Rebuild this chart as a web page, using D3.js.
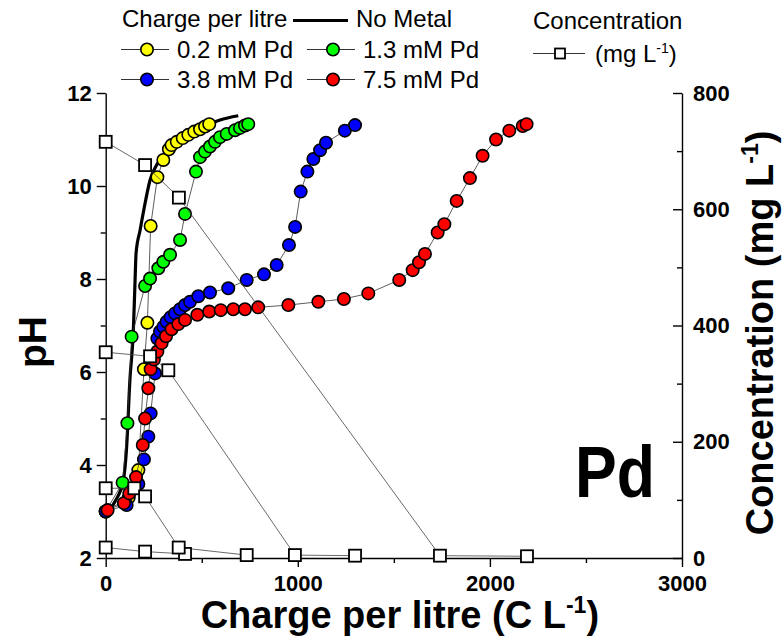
<!DOCTYPE html>
<html lang="en">
<head>
<meta charset="UTF-8">
<title>Pd pH vs charge</title>
<script src="https://d3js.org/d3.v7.min.js"></script>
<style>
  body { margin: 0; background: #fff; }
  svg { font-family: "Liberation Sans", Arial, sans-serif; }
  .axis path, .axis line { stroke: #000; stroke-width: 1.4px; }
  .axis text { font-size: 22px; font-weight: bold; fill: #000; font-family: "Liberation Sans", Arial, sans-serif; }
</style>
</head>
<body>
<div id="chart"></div>
<script>
// ---- data ----
const noMetalQ  = [0, 48, 92, 109, 126, 144, 153, 158, 179, 205, 231, 265, 317, 404, 491, 595, 690];
const noMetalPH = [2.95, 3.21, 3.68, 4.39, 5.83, 6.9, 7.98, 8.55, 9.05, 9.63, 10.13, 10.45, 10.77, 11.06, 11.24, 11.42, 11.51];

const pd02Q  = [0, 120, 170, 199, 217, 234, 269, 300, 329, 343, 370, 401, 430, 461, 491, 517, 539];
const pd02PH = [3.0, 3.3, 3.89, 6.06, 7.06, 9.14, 10.19, 10.56, 10.79, 10.88, 10.95, 11.03, 11.10, 11.17, 11.22, 11.28, 11.33];

const pd13Q  = [0, 88, 113, 135, 205, 231, 274, 300, 335, 387, 413, 470, 491, 517, 543, 569, 595, 630, 673, 699, 725, 742];
const pd13PH = [3.0, 3.62, 4.90, 6.76, 7.85, 8.01, 8.23, 8.37, 8.52, 8.84, 9.40, 10.31, 10.62, 10.74, 10.85, 10.95, 11.05, 11.12, 11.20, 11.25, 11.30, 11.33];

const pd38Q  = [0, 109, 170, 199, 222, 234, 257, 269, 283, 300, 317, 338, 361, 387, 413, 439, 482, 543, 638, 734, 824, 890, 954, 986, 1015, 1050, 1081, 1116, 1147, 1245, 1298];
const pd38PH = [3.0, 3.14, 3.59, 4.12, 4.61, 5.11, 5.97, 6.72, 6.87, 6.97, 7.08, 7.18, 7.26, 7.35, 7.44, 7.51, 7.63, 7.71, 7.80, 7.98, 8.10, 8.30, 8.73, 9.12, 9.88, 10.31, 10.58, 10.77, 10.93, 11.19, 11.31];

const pd75Q  = [10, 95, 123, 158, 193, 205, 222, 234, 251, 269, 291, 314, 343, 378, 413, 477, 539, 599, 664, 725, 794, 951, 1107, 1240, 1367, 1528, 1598, 1631, 1662, 1728, 1763, 1827, 1896, 1962, 2032, 2101, 2171, 2191];
const pd75PH = [3.03, 3.18, 3.39, 3.74, 4.43, 5.0, 5.65, 6.06, 6.27, 6.44, 6.62, 6.77, 6.92, 7.03, 7.12, 7.23, 7.30, 7.33, 7.35, 7.35, 7.39, 7.44, 7.51, 7.57, 7.69, 7.98, 8.19, 8.36, 8.54, 9.0, 9.18, 9.68, 10.17, 10.65, 11.0, 11.19, 11.29, 11.33];

// concentration (mg/L) vs charge
const conc02Q = [0, 205, 413];
const conc02  = [18, 11, 7];
const conc13Q = [0, 149, 205, 380, 734];
const conc13  = [120, 120, 106, 18, 5];
const conc38Q = [0, 231, 326, 985, 1298];
const conc38  = [354, 347, 323, 5, 4];
const conc75Q = [0, 205, 381, 1740, 2193];
const conc75  = [716, 676, 620, 4, 3];

const xTicks = [0, 1000, 2000, 3000];
const xMinor = [500, 1500, 2500];
const phTicks = [2, 4, 6, 8, 10, 12];
const phMinor = [3, 5, 7, 9, 11];
const concTicks = [0, 200, 400, 600, 800];
const concMinor = [100, 300, 500, 700];

const seriesLabels = ["0.2 mM Pd", "1.3 mM Pd", "3.8 mM Pd", "7.5 mM Pd"];
const seriesColors = ["#ffff00", "#00ff00", "#0000ff", "#ff0000"];

// ---- layout ----
const W = 784, H = 637;
const plotL = 105.7, plotR = 682, plotT = 93, plotB = 558;

const svg = d3.select("#chart").append("svg")
  .attr("width", W).attr("height", H);

const x = d3.scaleLinear().domain([0, 3000]).range([plotL, plotR]);
const y = d3.scaleLinear().domain([2, 12]).range([plotB, plotT]);
const yC = d3.scaleLinear().domain([0, 800]).range([plotB, plotT]);

const zip = (a, b) => a.map((v, i) => [v, b[i]]);

// axes
svg.append("g").attr("class", "axis")
  .attr("transform", "translate(0," + plotB + ")")
  .call(d3.axisBottom(x).tickValues(xTicks).tickSize(9).tickSizeOuter(0).tickPadding(8).tickFormat(d3.format("d")));
svg.append("g").attr("class", "axis")
  .attr("transform", "translate(0," + plotB + ")")
  .call(d3.axisBottom(x).tickValues(xMinor).tickSize(5).tickFormat(""))
  .select(".domain").remove();

svg.append("g").attr("class", "axis")
  .attr("transform", "translate(" + plotL + ",0)")
  .call(d3.axisLeft(y).tickValues(phTicks).tickSize(9).tickSizeOuter(0).tickPadding(5));
svg.append("g").attr("class", "axis")
  .attr("transform", "translate(" + plotL + ",0)")
  .call(d3.axisLeft(y).tickValues(phMinor).tickSize(5).tickFormat(""))
  .select(".domain").remove();

svg.append("g").attr("class", "axis")
  .attr("transform", "translate(" + plotR + ",0)")
  .call(d3.axisRight(yC).tickValues(concTicks).tickSize(-9).tickSizeOuter(0).tickPadding(11));
svg.append("g").attr("class", "axis")
  .attr("transform", "translate(" + plotR + ",0)")
  .call(d3.axisRight(yC).tickValues(concMinor).tickSize(-5).tickFormat(""))
  .select(".domain").remove();

// axis titles
const xt = svg.append("text")
  .attr("x", (plotL + plotR) / 2 + 6).attr("y", 628)
  .attr("text-anchor", "middle")
  .style("font-size", "38px").style("font-weight", "bold")
  .text("Charge per litre (C L");
xt.append("tspan").attr("dy", -15).style("font-size", "23px").text("-1");
xt.append("tspan").attr("dy", 15).text(")");

svg.append("text")
  .attr("transform", "translate(46,342) rotate(-90)")
  .attr("text-anchor", "middle")
  .style("font-size", "39px").style("font-weight", "bold")
  .text("pH");

const yt = svg.append("text")
  .attr("transform", "translate(773,333) rotate(-90)")
  .attr("text-anchor", "middle")
  .style("font-size", "38px").style("font-weight", "bold")
  .text("Concentration (mg L");
yt.append("tspan").attr("dy", -15).style("font-size", "23px").text("-1");
yt.append("tspan").attr("dy", 15).text(")");

svg.append("text")
  .attr("x", 655).attr("y", 497)
  .attr("text-anchor", "end")
  .attr("textLength", 80).attr("lengthAdjust", "spacingAndGlyphs")
  .style("font-size", "72px").style("font-weight", "bold")
  .text("Pd");

// no-metal line
const smooth = d3.line().x(d => x(d[0])).y(d => y(d[1])).curve(d3.curveMonotoneX);
svg.append("path")
  .datum(zip(noMetalQ, noMetalPH))
  .attr("fill", "none").attr("stroke", "#000").attr("stroke-width", 3.2)
  .attr("d", smooth);

// pH series
const phSeries = [zip(pd02Q, pd02PH), zip(pd13Q, pd13PH), zip(pd38Q, pd38PH), zip(pd75Q, pd75PH)];
const flatLine = d3.line().x(d => x(d[0])).y(d => y(d[1]));
phSeries.forEach((pts, i) => {
  const g = svg.append("g");
  g.append("path").datum(pts)
    .attr("fill", "none").attr("stroke", "#333").attr("stroke-width", 0.8)
    .attr("d", flatLine);
  g.selectAll("circle").data(pts).enter().append("circle")
    .attr("cx", d => x(d[0])).attr("cy", d => y(d[1]))
    .attr("r", 6.2)
    .attr("fill", seriesColors[i]).attr("stroke", "#000").attr("stroke-width", 1.6);
});

// concentration series
const concSeries = [zip(conc02Q, conc02), zip(conc13Q, conc13), zip(conc38Q, conc38), zip(conc75Q, conc75)];
const cLine = d3.line().x(d => x(d[0])).y(d => yC(d[1]));
concSeries.forEach(pts => {
  svg.append("path").datum(pts)
    .attr("fill", "none").attr("stroke", "#444").attr("stroke-width", 0.8)
    .attr("d", cLine);
});
concSeries.forEach(pts => {
  svg.append("g").selectAll("rect").data(pts).enter().append("rect")
    .attr("x", d => x(d[0]) - 6).attr("y", d => yC(d[1]) - 6)
    .attr("width", 12).attr("height", 12)
    .attr("fill", "#fff").attr("stroke", "#000").attr("stroke-width", 1.8);
});

// legend
const lg = svg.append("g").style("font-size", "24px");
lg.append("text").attr("x", 122).attr("y", 27).text("Charge per litre");
lg.append("line").attr("x1", 293).attr("x2", 348).attr("y1", 20.5).attr("y2", 20.5)
  .attr("stroke", "#000").attr("stroke-width", 3.2);
lg.append("text").attr("x", 356).attr("y", 27).text("No Metal");

const legPos = [[147, 49.5], [333, 49.5], [147, 79.5], [333, 79.5]];
seriesLabels.forEach((lab, i) => {
  const [cx, cy] = legPos[i];
  lg.append("line").attr("x1", cx - 26).attr("x2", cx + 22).attr("y1", cy).attr("y2", cy)
    .attr("stroke", "#333").attr("stroke-width", 1);
  lg.append("circle").attr("cx", cx).attr("cy", cy).attr("r", 6.2)
    .attr("fill", seriesColors[i]).attr("stroke", "#000").attr("stroke-width", 1.6);
  lg.append("text").attr("x", cx + 30).attr("y", cy + 8).text(lab);
});

lg.append("text").attr("x", 533).attr("y", 29).text("Concentration");
lg.append("line").attr("x1", 533).attr("x2", 585).attr("y1", 53.5).attr("y2", 53.5)
  .attr("stroke", "#333").attr("stroke-width", 1);
lg.append("rect").attr("x", 555).attr("y", 48.5).attr("width", 10).attr("height", 10)
  .attr("fill", "#fff").attr("stroke", "#000").attr("stroke-width", 1.8);
const ct = lg.append("text").attr("x", 595).attr("y", 62).text("(mg L");
ct.append("tspan").attr("dy", -9).style("font-size", "14px").text("-1");
ct.append("tspan").attr("dy", 9).text(")");
</script>
</body>
</html>
